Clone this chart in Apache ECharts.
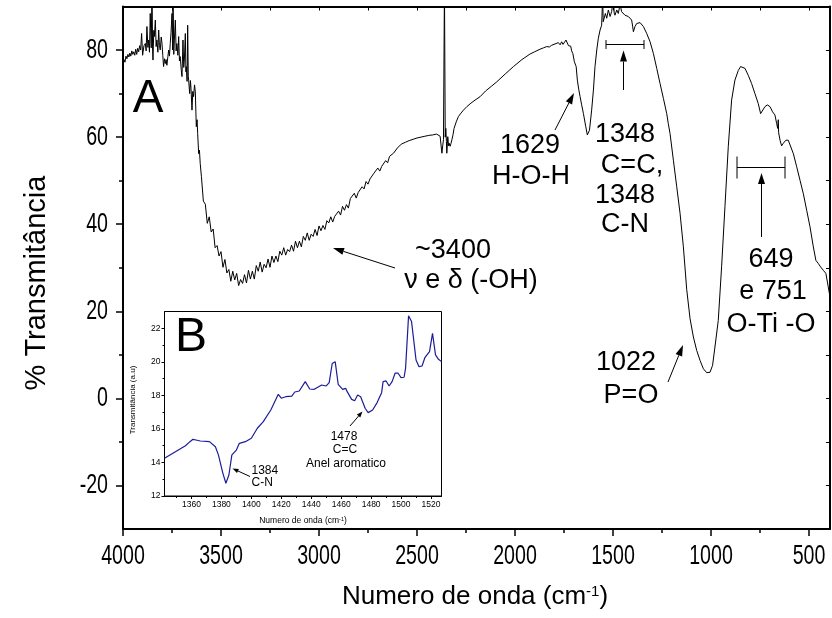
<!DOCTYPE html>
<html><head><meta charset="utf-8">
<script src="https://cdn.jsdelivr.net/npm/echarts@6/dist/echarts.min.js"></script>
<style>html,body{margin:0;padding:0;background:#fff}#c{width:832px;height:618px}</style>
</head><body><div id="c"></div>
<script>
// ---------- DATA ----------
// Main FTIR spectrum (A): [wavenumber cm-1, % transmittance]
const spectrumA = [
[4000,76.5],[3995,77.8],[3990,77.2],[3985,78.6],[3980,78.0],[3975,79.0],[3970,78.4],[3965,79.3],[3960,78.6],[3955,79.8],
[3950,79.0],[3945,79.6],[3940,78.8],[3935,80.2],[3930,79.0],[3925,80.4],[3920,79.6],[3915,81.0],[3910,80.0],[3905,83.8],
[3900,78.8],[3893,81.0],[3886,81.5],[3882,79.8],[3878,85.4],[3873,80.6],[3869,82.3],[3865,79.5],[3861,88.4],[3856,80.5],
[3852,95],[3849,80.0],[3847,77.7],[3843,84.5],[3840,83.1],[3835,86.9],[3831,80.8],[3827,82.3],[3822,79.5],[3818,84.6],
[3814,81.0],[3810,80.0],[3805,83.0],[3801,81.5],[3797,78.8],[3793,76.2],[3788,78.0],[3784,76.9],[3780,77.8],[3776,76.5],
[3771,78.5],[3767,80.0],[3763,78.6],[3759,81.5],[3755,84.0],[3750,88.4],[3747,80.0],[3745,95],[3741,79.0],[3738,82.3],
[3733,86.9],[3729,79.8],[3725,81.5],[3720,78.8],[3716,83.1],[3712,77.5],[3708,78.5],[3703,75.5],[3699,73.9],[3694,82.3],
[3690,76.0],[3687,77.7],[3682,83.8],[3679,75.0],[3677,76.2],[3673,72.8],[3670,85.7],[3667,74.0],[3665,73.1],[3660,70.0],
[3656,73.0],[3653,71.2],[3648,66.2],[3644,70.5],[3640,69.3],[3635,72.0],[3631,70.4],[3626,62.4],[3622,64.0],[3619,60.8],
[3614,56.2],[3610,57.0],[3606,53.9],
[3600,51.0],[3590,45.3],[3580,44.6],[3570,40.2],[3560,41.7],[3550,38.2],[3540,38.9],[3530,34.6],[3520,35.1],[3510,32.7],
[3500,33.7],[3490,30.1],[3480,31.9],[3470,28.8],[3460,29.6],[3450,26.9],[3440,29.2],[3430,27.2],[3420,28.7],[3410,25.9],
[3400,27.3],[3390,26.4],[3380,28.4],[3370,26.5],[3360,29.4],[3350,27.4],[3340,29.2],[3330,27.4],[3320,30.5],[3310,29.2],
[3300,31.3],[3290,29.0],[3280,30.8],[3270,30.0],[3260,32.0],[3250,30.1],[3240,32.7],[3230,31.2],[3220,32.7],[3210,31.4],
[3200,33.8],[3190,32.9],[3180,34.6],[3170,32.9],[3160,34.2],[3150,33.7],[3140,35.2],[3130,33.8],[3120,36.1],[3110,34.6],
[3100,36.1],[3090,34.8],[3080,37.2],[3070,36.3],[3060,38.0],[3050,36.3],[3040,37.7],[3030,37.2],[3020,38.8],[3010,37.4],
[3000,39.6],[2990,38.5],[2980,39.7],[2970,38.8],[2960,40.8],[2950,40.3],[2940,41.7],[2930,40.5],[2920,41.8],[2910,41.5],
[2900,43.0],[2890,42.1],[2880,44.1],[2870,43.2],[2860,44.5],[2850,43.7],[2840,45.9],[2830,45.5],[2820,47.1],[2810,46.0],
[2800,47.3],[2790,47.3],[2780,48.6],[2770,48.1],[2760,49.8],[2750,49.2],[2740,50.4],[2730,50.0],[2720,51.7],[2710,51.5],
[2700,52.9],[2690,52.2],[2680,53.3],[2670,53.3],[2660,54.6],[2650,54.1],[2640,55.6],[2630,55.4],[2620,56.3],[2610,56.3],
[2600,57.5],[2590,57.5],[2580,58.4],[2570,58.1],[2560,58.8],[2550,58.7],[2540,59.2],[2530,59.4],[2520,59.5],
[2500,59.8],[2480,60.0],[2460,60.2],[2440,60.4],[2420,60.5],[2400,60.7],[2390,60.9],
[2382,60.2],[2378,60.6],[2373,56.3],[2369,58.0],[2365,59.4],[2360,95],[2356,60.0],[2353,62.0],[2350,59.0],[2348,56.3],
[2345,58.5],[2343,60.1],[2339,58.0],[2336,58.6],[2331,57.9],[2327,58.5],[2322,59.4],[2316,60.6],[2311,62.0],[2300,63.5],
[2289,64.7],[2276,65.5],[2263,66.2],[2246,67.0],[2225,67.8],[2204,68.5],[2178,69.3],[2150,70.6],[2120,71.7],[2093,72.7],
[2050,74.5],[2008,76.2],[1965,77.8],[1923,79.1],[1900,79.6],[1872,80.2],[1855,80.5],[1838,80.8],[1825,80.7],[1813,81.1],
[1805,80.9],[1796,81.4],[1788,81.0],[1779,81.7],[1770,81.2],[1762,81.9],[1755,81.3],[1745,81.5],[1740,82.3],[1733,82.1],
[1727,81.0],[1722,80.8],[1716,80.9],[1711,79.8],[1705,79.2],[1697,77.3],[1688,76.2],[1682,73.1],[1675,71.0],[1668,69.3],
[1660,67.4],[1651,65.4],[1639,62.4],[1631,60.5],[1620,61.6],[1609,66.2],[1600,70.8],[1592,76.2],[1583,80.0],[1575,82.7],
[1566,84.6],[1558,85.7],[1553,92],[1550,86.5],[1546,86.9],[1539,88.4],[1532,87.3],[1524,89.2],[1515,87.7],[1507,88.8],
[1498,92],[1494,88.5],[1490,88.0],[1481,89.2],[1473,88.4],[1464,90.5],[1456,88.8],[1447,89.2],[1439,88.0],[1430,88.4],
[1422,87.7],[1413,88.0],[1405,86.9],[1400,85.5],[1396,84.2],[1388,85.4],[1379,86.1],[1370,86.4],[1362,86.3],[1345,85.4],
[1328,83.8],[1311,81.9],[1294,79.2],[1277,75.8],[1260,72.3],[1243,68.9],[1226,65.4],[1218,63.1],[1209,60.8],[1192,54.7],
[1175,48.6],[1158,42.5],[1141,34.8],[1124,25.0],[1107,18.3],[1090,14.1],[1073,11.0],[1056,8.7],[1039,6.8],[1022,5.9],
[1005,6.0],[992,7.6],[980,11.8],[963,17.9],[946,30.2],[929,44.0],[912,57.8],[895,68.5],[878,73.1],[861,75.3],
[849,76.2],[839,76.3],[827,75.8],[810,74.2],[793,72.3],[776,70.0],[759,67.7],[747,65.4],[737,65.8],[725,67.0],
[713,67.4],[699,67.0],[686,65.8],[674,65.1],[665,63.1],[660,62.0],[657,64.0],[655,61.0],[648,59.3],[640,58.0],
[631,58.6],[618,59.3],[606,59.3],[597,59.0],[580,56.2],[563,53.2],[546,50.1],[529,47.0],[512,43.2],[495,39.4],
[478,34.8],[465,31.7],[453,31.0],[441,30.2],[427,29.4],[414,28.7],[402,25.6],[393,23.3]
];
// Inset spectrum (B)
const insetWavenumber = [1342,1356,1359,1361,1363,1366,1372,1376,1378,1381,1383,1385,1387,1390,1392,1396,1400,1404,1408,1413,
 1418,1420,1423,1427,1429,1432,1436,1439,1442,1447,1450,1452,1454,1456,1458,1461,1463,1464,1467,1469,
 1471,1473,1476,1478,1481,1484,1487,1488,1490,1492,1494,1496,1498,1500,1502,1503,1505,1507,1510,1512,
 1514,1516,1519,1521,1523,1525,1527];
const insetTransmittance = [14.25,15.0,15.24,15.38,15.34,15.28,15.24,14.94,14.45,13.35,12.76,13.25,14.45,14.74,15.14,15.24,15.44,16.04,16.43,17.13,
 18.06,17.83,17.92,17.96,18.2,18.26,18.82,18.38,18.36,18.62,18.56,18.76,19.9,20.01,18.66,18.36,18.42,18.22,17.76,17.68,
 18.02,17.92,17.23,16.97,17.13,17.57,18.16,18.82,18.86,18.56,18.82,19.32,19.32,19.06,19.08,19.61,22.74,22.4,20.11,19.71,
 19.75,20.27,20.61,21.7,20.41,20.15,20.01];
// Tick values
const xMajorTicks = [500,1000,1500,2000,2500,3000,3500,4000];
const xMinorTicks = [750,1250,1750,2250,2750,3250,3750];
const xTopTicks = [500,750,1000,1250,1500,1750,2000,2250,2500,2750,3000,3250,3500,3750];
const yMajorTicks = [-20,0,20,40,60,80];
const yMinorTicks = [-10,10,30,50,70];
const yRightTicks = [-20,-10,0,10,20,30,40,50,60,70,80];
const insetXLabels = [1360,1380,1400,1420,1440,1460,1480,1500,1520];
const insetXMinor = [1350,1370,1390,1410,1430,1450,1470,1490,1510];
const insetYLabels = [12,14,16,18,20,22];
const insetYMinor = [13,15,17,19,21];

// ---------- CHART ----------
const FONT = '"Liberation Sans", Arial, Helvetica, sans-serif';
const chart = echarts.init(document.getElementById('c'), null, {renderer:'canvas'});

function axisX(extra){
  return Object.assign({type:'value', inverse:true, min:393, max:4000, gridIndex:0,
    splitLine:{show:false}, axisLabel:{show:false}, axisLine:{show:false, onZero:false}, axisTick:{show:false}}, extra);
}
function axisY(extra){
  return Object.assign({type:'value', min:-30, max:90, gridIndex:0,
    splitLine:{show:false}, axisLabel:{show:false}, axisLine:{show:false, onZero:false}, axisTick:{show:false}}, extra);
}

function arrow(x1,y1,x2,y2,head,hw,lw){
  const dx=x2-x1, dy=y2-y1, L=Math.hypot(dx,dy), ux=dx/L, uy=dy/L;
  const bx=x2-ux*head, by=y2-uy*head;
  return [
    {type:'line', z:100, shape:{x1:x1,y1:y1,x2:bx,y2:by}, style:{stroke:'#000',lineWidth:lw||1}},
    {type:'polygon', z:100, shape:{points:[[x2,y2],[bx-uy*hw,by+ux*hw],[bx+uy*hw,by-ux*hw]]}, style:{fill:'#000'}}
  ];
}
function txt(s,x,y,size,align,sx){
  return {type:'text', z:100, x:x, y:y, scaleX:sx||1, style:{text:s, fill:'#000', font:size+'px '+FONT, align:align||'center', verticalAlign:'middle'}};
}
function bracket(x1,x2,y,h){
  return [
    {type:'line', z:100, shape:{x1:x1,y1:y,x2:x2,y2:y}, style:{stroke:'#000',lineWidth:1}},
    {type:'line', z:100, shape:{x1:x1,y1:y-h,x2:x1,y2:y+h}, style:{stroke:'#000',lineWidth:1}},
    {type:'line', z:100, shape:{x1:x2,y1:y-h,x2:x2,y2:y+h}, style:{stroke:'#000',lineWidth:1}}
  ];
}

const graphics = [].concat(
  [txt('A',148,99,46)],
  [txt('1629',530,146,27), txt('H-O-H',531,177,27)],
  arrow(555,130,574,93,11,3.5),
  [txt('1348',625,135,27), txt('C=C,',632,166,27), txt('1348',625,196,27), txt('C-N',625,225,27)],
  bracket(606,644,44.5,4.5),
  arrow(623.5,90,623.5,50.5,11,3.5),
  [txt('~3400',453,251,27), txt('\u03bd e \u03b4 (-OH)',471,281,27)],
  arrow(395,268,333,248,11,3.5),
  [txt('1022',626,363,27), txt('P=O',631,396,27)],
  arrow(668,382,683,345,11,3.5),
  [txt('649',771,260,27), txt('e 751',773,292,27), txt('O-Ti -O',771,325,27)],
  bracket(737,785,167.5,11),
  arrow(761.5,237,761.5,173,11,3.5),
  [txt('B',191,338,48)],
  [txt('1384',251.5,471,12,'left'), txt('C-N',251.5,483,12,'left')],
  arrow(250,476.5,232.5,468.5,6,2.2),
  [txt('1478',344,437,12), txt('C=C',345,450,12), txt('Anel aromatico',346,463.5,12)],
  arrow(350,426,362.5,411.5,6,2.2),
  [{type:'text', z:100, x:475, y:597, style:{text:'{n|Numero de onda (cm}{s|-1}{n|)}', align:'center', verticalAlign:'middle',
     rich:{n:{fontSize:26, fontFamily:FONT, fill:'#000', verticalAlign:'bottom'}, s:{fontSize:15, fontFamily:FONT, fill:'#000', verticalAlign:'top'}}}},
   {type:'text', z:100, x:37, y:283, rotation:Math.PI/2, style:{text:'% Transmit\u00e2ncia', fill:'#000', font:'29px '+FONT, align:'center', verticalAlign:'middle'}},
   {type:'text', z:100, x:303, y:521, style:{text:'{n|Numero de onda (cm}{s|-1}{n|)}', align:'center', verticalAlign:'middle',
     rich:{n:{fontSize:8.5, fontFamily:FONT, fill:'#000', verticalAlign:'bottom'}, s:{fontSize:5.5, fontFamily:FONT, fill:'#000', verticalAlign:'top'}}}},
   {type:'text', z:100, x:133, y:400, rotation:Math.PI/2, style:{text:'Transmit\u00e2ncia (a.u)', fill:'#000', font:'8px '+FONT, align:'center', verticalAlign:'middle'}}
  ]
);

const plain = v => String(v);
const option = {
  animation:false,
  backgroundColor:'#fff',
  grid:[
    {left:123, right:2, top:6.5, bottom:89, containLabel:false, outerBoundsMode:'none'},
    {left:164.5, top:311.5, width:277, height:184.5, show:true, backgroundColor:'#fff', borderColor:'#000', borderWidth:1, z:5, containLabel:false, outerBoundsMode:'none'}
  ],
  xAxis:[
    axisX({position:'bottom', axisLine:{show:true, onZero:false, lineStyle:{color:'#000', width:2}},
      axisTick:{show:true, customValues:xMajorTicks, length:7, lineStyle:{color:'#000', width:1.5}}}),
    axisX({position:'bottom', axisTick:{show:true, customValues:xMinorTicks, length:4, lineStyle:{color:'#000', width:1.5}}}),
    axisX({position:'top', axisLine:{show:true, onZero:false, lineStyle:{color:'#000', width:2}},
      axisTick:{show:true, inside:true, customValues:xTopTicks, length:4, lineStyle:{color:'#000', width:1}}}),
    {type:'value', gridIndex:1, min:1342, max:1527, position:'bottom', splitLine:{show:false},
      axisLine:{show:true, onZero:false, lineStyle:{color:'#000', width:1}},
      axisTick:{show:true, customValues:insetXLabels, length:3, lineStyle:{color:'#000', width:1}},
      axisLabel:{show:true, customValues:insetXLabels, formatter:plain, fontSize:8.5, fontFamily:FONT, color:'#000', margin:4}},
    {type:'value', gridIndex:1, min:1342, max:1527, position:'bottom', splitLine:{show:false},
      axisLine:{show:false, onZero:false}, axisLabel:{show:false},
      axisTick:{show:true, customValues:insetXMinor, length:2, lineStyle:{color:'#000', width:1}}}
  ],
  yAxis:[
    axisY({position:'left', axisLine:{show:true, onZero:false, lineStyle:{color:'#000', width:2}},
      axisTick:{show:true, customValues:yMajorTicks, length:7, lineStyle:{color:'#000', width:1.5}}}),
    axisY({position:'left', axisTick:{show:true, customValues:yMinorTicks, length:4, lineStyle:{color:'#000', width:1.5}}}),
    axisY({position:'right', axisLine:{show:true, onZero:false, lineStyle:{color:'#000', width:2}},
      axisTick:{show:true, inside:true, customValues:yRightTicks, length:4, lineStyle:{color:'#000', width:1}}}),
    {type:'value', gridIndex:1, min:12, max:23, position:'left', splitLine:{show:false},
      axisLine:{show:true, onZero:false, lineStyle:{color:'#000', width:1}},
      axisTick:{show:true, customValues:insetYLabels, length:3, lineStyle:{color:'#000', width:1}},
      axisLabel:{show:true, customValues:insetYLabels, formatter:plain, fontSize:8.5, fontFamily:FONT, color:'#000', margin:4}},
    {type:'value', gridIndex:1, min:12, max:23, position:'left', splitLine:{show:false},
      axisLine:{show:false, onZero:false}, axisLabel:{show:false},
      axisTick:{show:true, customValues:insetYMinor, length:2, lineStyle:{color:'#000', width:1}}}
  ],
  series:[
    {type:'line', name:'A', xAxisIndex:0, yAxisIndex:0, data:spectrumA, showSymbol:false, symbol:'none',
      lineStyle:{color:'#000', width:1}, clip:true, z:3},
    {type:'line', name:'B', xAxisIndex:3, yAxisIndex:3, data:insetWavenumber.map((w,i)=>[w,insetTransmittance[i]]),
      showSymbol:false, symbol:'none', lineStyle:{color:'#1c1c9a', width:1.2}, clip:true, z:6}
  ]
};
chart.setOption(option);

// Main tick labels placed through the axes' own scales (condensed like the original)
const tickLabels = [];
xMajorTicks.forEach(v => {
  const px = chart.convertToPixel({xAxisIndex:0}, v);
  tickLabels.push(txt(String(v), px, 556, 28, 'center', 0.7));
});
yMajorTicks.forEach(v => {
  const py = chart.convertToPixel({yAxisIndex:0}, v);
  tickLabels.push(txt(String(v), 108, py, 28, 'right', 0.7));
});
chart.setOption({graphic: graphics.concat(tickLabels)});
</script>
</body></html>
